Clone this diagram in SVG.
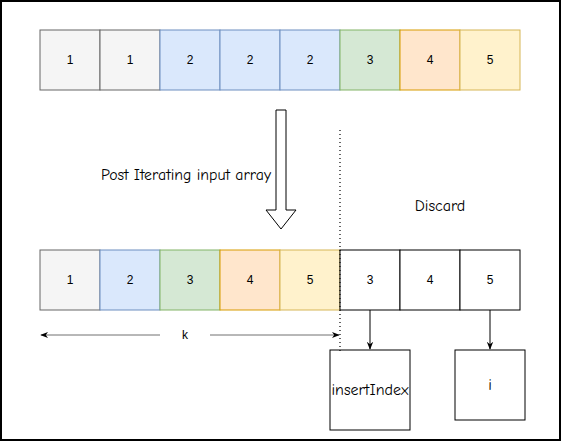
<svg xmlns="http://www.w3.org/2000/svg" width="562" height="442" viewBox="0 0 562 442">
<defs>
<style>
.t{font-family:Helvetica,"Liberation Sans",Arial,sans-serif;font-size:12px;text-anchor:middle;dominant-baseline:central;fill:#000}
.c{font-family:"Comic Sans MS","Comic Neue","Liberation Sans",sans-serif;font-size:16px;fill:#000}
.g{fill:#f5f5f5;stroke:#666666}
.b{fill:#dae8fc;stroke:#6c8ebf}
.gr{fill:#d5e8d4;stroke:#82b366}
.o{fill:#ffe6cc;stroke:#d79b00}
.y{fill:#fff2cc;stroke:#d6b656}
.w{fill:#ffffff;stroke:#000000}
</style>
<marker id="ab" viewBox="0 0 10 10" refX="9" refY="5" markerWidth="8" markerHeight="8" orient="auto" markerUnits="userSpaceOnUse"><path d="M0,1 L10,5 L0,9 L3,5 Z" fill="#000"/></marker>
</defs>
<rect x="1" y="1" width="559" height="439" fill="#fff" stroke="#000" stroke-width="2"/>
<g id="top-row">
<g id="t1"><rect class="g" x="40" y="30" width="60" height="60"/><text class="t" x="70" y="60">1</text></g>
<g id="t2"><rect class="g" x="100" y="30" width="60" height="60"/><text class="t" x="130" y="60">1</text></g>
<g id="t3"><rect class="b" x="160" y="30" width="60" height="60"/><text class="t" x="190" y="60">2</text></g>
<g id="t4"><rect class="b" x="220" y="30" width="60" height="60"/><text class="t" x="250" y="60">2</text></g>
<g id="t5"><rect class="b" x="280" y="30" width="60" height="60"/><text class="t" x="310" y="60">2</text></g>
<g id="t6"><rect class="gr" x="340" y="30" width="60" height="60"/><text class="t" x="370" y="60">3</text></g>
<g id="t7"><rect class="o" x="400" y="30" width="60" height="60"/><text class="t" x="430" y="60">4</text></g>
<g id="t8"><rect class="y" x="460" y="30" width="60" height="60"/><text class="t" x="490" y="60">5</text></g>
</g>
<g id="bottom-row">
<g id="b1"><rect class="g" x="40" y="250" width="60" height="60"/><text class="t" x="70" y="280">1</text></g>
<g id="b2"><rect class="b" x="100" y="250" width="60" height="60"/><text class="t" x="130" y="280">2</text></g>
<g id="b3"><rect class="gr" x="160" y="250" width="60" height="60"/><text class="t" x="190" y="280">3</text></g>
<g id="b4"><rect class="o" x="220" y="250" width="60" height="60"/><text class="t" x="250" y="280">4</text></g>
<g id="b5"><rect class="y" x="280" y="250" width="60" height="60"/><text class="t" x="310" y="280">5</text></g>
<g id="b6"><rect class="w" x="340" y="250" width="60" height="60"/><text class="t" x="370" y="280">3</text></g>
<g id="b7"><rect class="w" x="400" y="250" width="60" height="60"/><text class="t" x="430" y="280">4</text></g>
<g id="b8"><rect class="w" x="460" y="250" width="60" height="60"/><text class="t" x="490" y="280">5</text></g>
</g>
<g id="big-arrow"><path d="M276,110 L286,110 L286,210 L296,210 L281,229 L266,210 L276,210 Z" fill="#fff" stroke="#000"/></g>
<g id="label-post"><text class="c" x="186" y="180" text-anchor="middle" textLength="170" lengthAdjust="spacingAndGlyphs">Post Iterating input array</text></g>
<g id="label-discard"><text class="c" x="440" y="211" text-anchor="middle">Discard</text></g>
<g id="insertIndex"><rect class="w" x="330" y="350" width="80" height="80"/><text class="c" x="370" y="395" text-anchor="middle" textLength="77" lengthAdjust="spacingAndGlyphs">insertIndex</text></g>
<g id="i"><rect class="w" x="455" y="350" width="70" height="70"/><text class="c" x="490" y="390" text-anchor="middle" fill="#000">i</text></g>
<g id="connectors">
<line x1="340" y1="130" x2="340" y2="352" stroke="#000" stroke-width="1.2" stroke-dasharray="1,3"/>
<line x1="370" y1="310" x2="370" y2="349" stroke="#000" marker-end="url(#ab)"/>
<line x1="490" y1="310" x2="490" y2="349" stroke="#000" marker-end="url(#ab)"/>
<line x1="160" y1="335" x2="41" y2="335" stroke="#707070" marker-end="url(#ab)"/>
<line x1="210" y1="335" x2="339" y2="335" stroke="#707070" marker-end="url(#ab)"/>
<text class="t" x="185" y="335">k</text>
</g>
</svg>
